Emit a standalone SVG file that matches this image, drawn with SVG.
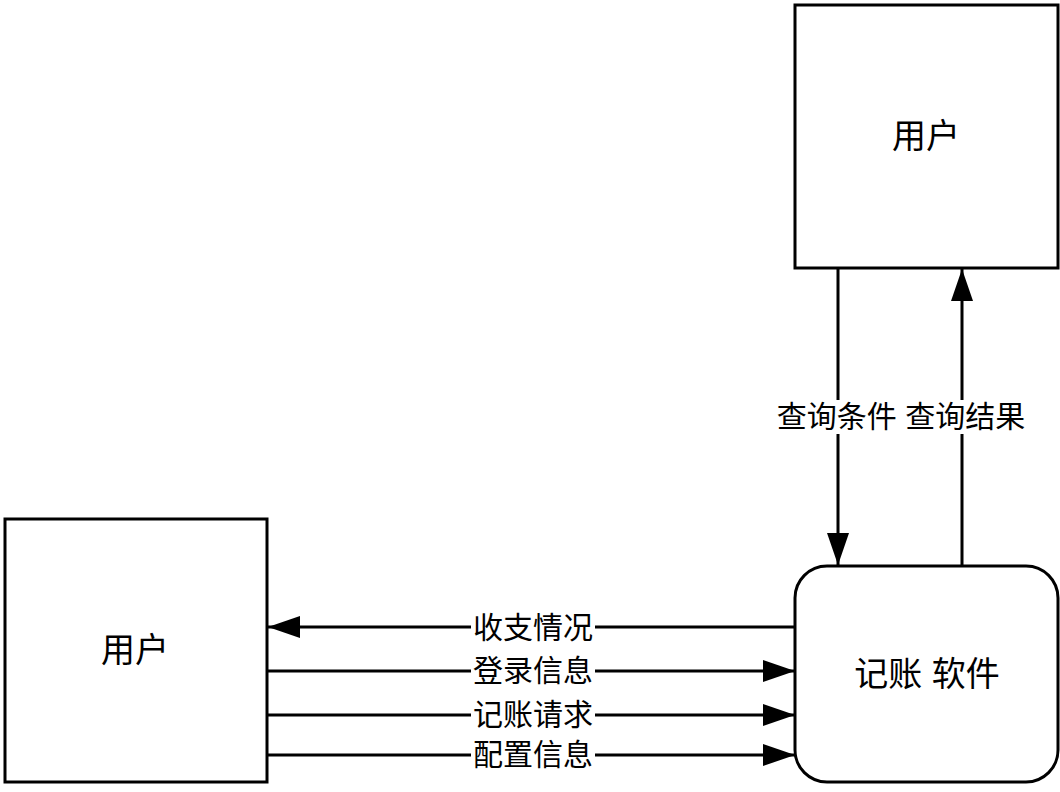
<svg xmlns="http://www.w3.org/2000/svg" width="1060" height="792" viewBox="0 0 1060 792">
<style>
.box{fill:#fff;stroke:#000;stroke-width:3}
.ln{stroke:#000;stroke-width:3;fill:none}
.nt{font-family:"Liberation Sans","Noto Sans CJK SC",sans-serif;font-size:34px;fill:#000;text-anchor:middle;dominant-baseline:central}
.lb{font-family:"Liberation Sans","Noto Sans CJK SC",sans-serif;font-size:30px;fill:#000;text-anchor:middle;dominant-baseline:central}
.bg{fill:#fff}
</style>
<defs>
<marker id="ah" markerUnits="userSpaceOnUse" markerWidth="34" markerHeight="24" refX="32" refY="11" orient="auto">
<path d="M0,0 L32,11 L0,22 Z" fill="#000"/>
</marker>
</defs>
<g id="user-left">
<rect class="box" x="5" y="519" width="262" height="263"/>
<text class="nt" x="135" y="650">用户</text>
</g>
<g id="user-top">
<rect class="box" x="795" y="5" width="263" height="263"/>
<text class="nt" x="926" y="136">用户</text>
</g>
<g id="software">
<rect class="box" x="795" y="566" width="263" height="216" rx="32" ry="32"/>
<text class="nt" x="927" y="674">记账 软件</text>
</g>
<g id="connectors">
<line class="ln" x1="795" y1="627" x2="268" y2="627" marker-end="url(#ah)"/>
<line class="ln" x1="267" y1="671" x2="795" y2="671" marker-end="url(#ah)"/>
<line class="ln" x1="267" y1="715" x2="795" y2="715" marker-end="url(#ah)"/>
<line class="ln" x1="267" y1="755" x2="795" y2="755" marker-end="url(#ah)"/>
<line class="ln" x1="838" y1="268" x2="838" y2="565" marker-end="url(#ah)"/>
<line class="ln" x1="962" y1="566" x2="962" y2="269" marker-end="url(#ah)"/>
<rect class="bg" x="471" y="611" width="124" height="32"/>
<text class="lb" x="533" y="627">收支情况</text>
<rect class="bg" x="471" y="655" width="124" height="32"/>
<text class="lb" x="533" y="670">登录信息</text>
<rect class="bg" x="471" y="699" width="124" height="32"/>
<text class="lb" x="533" y="714">记账请求</text>
<rect class="bg" x="471" y="740" width="124" height="30"/>
<text class="lb" x="533" y="754">配置信息</text>
<rect class="bg" x="778" y="400" width="248" height="34"/>
<text class="lb" x="901" y="416">查询条件 查询结果</text>
</g>
</svg>
